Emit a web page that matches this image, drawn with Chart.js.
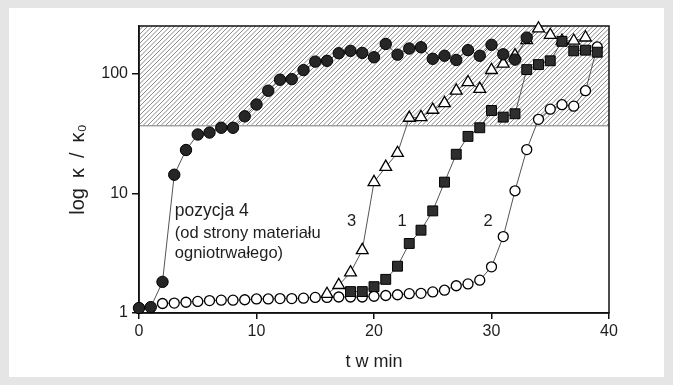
<!DOCTYPE html>
<html>
<head>
<meta charset="utf-8">
<script src="https://cdn.jsdelivr.net/npm/chart.js@4.4.1/dist/chart.umd.min.js"></script>
<style>
    html, body { margin: 0; padding: 0; background: #e5e5e5; }
    #wrap { width: 673px; height: 385px; }
</style>
</head>
<body>
<div id="wrap"><canvas id="chart" width="673" height="385"></canvas></div>
<script>
// --- dane (t w min, log κ/κ0) ---
const xTicks = [0, 10, 20, 30, 40];
const yTicks = [1, 10, 100];
const hatchFrom = 37;   // dolna granica zakreskowanego obszaru

const range = (a, b) => Array.from({ length: b - a + 1 }, (_, i) => a + i);

// pozycja 4 (pełne kółka)
const t4 = range(0, 33);
const v4 = [1.1, 1.12, 1.82, 14.3, 23, 31, 32.2, 35.3, 35.3, 44, 55.2, 72, 89, 90, 107, 126, 128,
            148, 155, 149, 137, 177, 144, 162, 166, 133, 141, 130, 157, 141, 174, 145, 131, 200];

// krzywa 1 (pełne kwadraty)
const t1 = range(18, 39);
const v1 = [1.51, 1.51, 1.66, 1.91, 2.46, 3.81, 4.92, 7.13, 12.4, 21.2, 29.9, 35.3, 49.2, 43.3,
            46.2, 108, 119, 128, 186, 155, 157, 151];

// krzywa 3 (puste trójkąty)
const t3 = range(16, 38);
const v3 = [1.44, 1.71, 2.18, 3.35, 12.4, 16.6, 21.7, 42.7, 43.3, 49.8, 56.6, 72, 84.7, 74.5,
            107, 121, 142, 190, 238, 210, 188, 188, 200];

// krzywa 2 (puste kółka)
const t2 = range(2, 39);
const v2 = [1.2, 1.21, 1.23, 1.25, 1.27, 1.28, 1.28, 1.29, 1.31, 1.31, 1.32, 1.32, 1.33, 1.35,
            1.35, 1.36, 1.36, 1.36, 1.38, 1.40, 1.42, 1.45, 1.46, 1.5, 1.55, 1.69, 1.75, 1.88,
            2.43, 4.35, 10.5, 23.2, 41.5, 50.5, 55, 53.5, 72, 167];

// podpisy na wykresie (w jednostkach osi)
const notes = [
    { text: 'pozycja 4', t: 3.05, v: 7.1, align: 'left', size: 17.5 },
    { text: '(od strony materiału', t: 3.05, v: 4.65, align: 'left', size: 16.5 },
    { text: 'ogniotrwałego)', t: 3.05, v: 3.15, align: 'left', size: 16.5 },
    { text: '3', t: 18.1, v: 5.8, align: 'center', size: 16.5 },
    { text: '1', t: 22.4, v: 5.8, align: 'center', size: 16.5 },
    { text: '2', t: 29.7, v: 5.85, align: 'center', size: 16.5 }
];

const FONT = "'Liberation Sans', Arial, sans-serif";
const INK = '#1e1e1e';

const pts = (ts, vs) => ts.map((t, i) => ({ x: t, y: vs[i] }));

const base = {
    showLine: true,
    borderColor: '#555',
    borderWidth: 1,
    tension: 0,
    clip: false,
    pointBorderColor: '#000'
};

const framePlugin = {
    id: 'frame',
    beforeDraw(chart) {
        const { ctx, width, height } = chart;
        ctx.save();
        ctx.fillStyle = '#e5e5e5';
        ctx.fillRect(0, 0, width, height);
        ctx.fillStyle = '#fff';
        ctx.fillRect(9, 8, width - 18, height - 16);
        ctx.restore();
    },
    beforeDatasetsDraw(chart) {
        const { ctx, chartArea: a, scales: { y } } = chart;
        const yb = y.getPixelForValue(hatchFrom);
        const h = yb - a.top;

        // zakreskowanie
        ctx.save();
        ctx.beginPath();
        ctx.rect(a.left, a.top, a.right - a.left, h);
        ctx.clip();
        ctx.strokeStyle = '#8a8a8a';
        ctx.lineWidth = 1;
        ctx.beginPath();
        for (let x = a.left - h; x < a.right; x += 4.5) {
            ctx.moveTo(x, yb);
            ctx.lineTo(x + h, a.top);
        }
        ctx.stroke();
        ctx.restore();

        ctx.save();
        ctx.strokeStyle = '#777';
        ctx.lineWidth = 1;
        ctx.beginPath();
        ctx.moveTo(a.left, yb + 0.5);
        ctx.lineTo(a.right, yb + 0.5);
        ctx.stroke();

        // ramka
        ctx.strokeStyle = '#111';
        ctx.lineWidth = 1.5;
        ctx.strokeRect(a.left, a.top, a.right - a.left, a.bottom - a.top);
        ctx.restore();
    },
    afterDatasetsDraw(chart) {
        const { ctx, scales: { x, y } } = chart;
        ctx.save();
        ctx.fillStyle = INK;
        ctx.textBaseline = 'middle';
        notes.forEach(n => {
            ctx.font = n.size + 'px ' + FONT;
            ctx.textAlign = n.align;
            ctx.fillText(n.text, x.getPixelForValue(n.t), y.getPixelForValue(n.v));
        });
        ctx.restore();
    }
};

new Chart(document.getElementById('chart'), {
    type: 'scatter',
    data: {
        datasets: [
            Object.assign({}, base, {
                label: 'pozycja 4',
                data: pts(t4, v4),
                pointStyle: 'circle',
                pointRadius: 5.7,
                pointBackgroundColor: '#262626',
                pointBorderWidth: 1
            }),
            Object.assign({}, base, {
                label: '1',
                data: pts(t1, v1),
                pointStyle: 'rect',
                pointRadius: 7,
                pointBackgroundColor: '#2e2e2e',
                pointBorderWidth: 1
            }),
            Object.assign({}, base, {
                label: '3',
                data: pts(t3, v3),
                pointStyle: 'triangle',
                pointRadius: 6.8,
                pointBackgroundColor: '#fff',
                pointBorderWidth: 1.3
            }),
            Object.assign({}, base, {
                label: '2',
                data: pts(t2, v2),
                pointStyle: 'circle',
                pointRadius: 5,
                pointBackgroundColor: '#fff',
                pointBorderWidth: 1.3
            })
        ]
    },
    options: {
        responsive: false,
        animation: false,
        layout: { padding: { top: 26, right: 64, left: 0, bottom: 0 } },
        plugins: {
            legend: { display: false },
            tooltip: { enabled: false }
        },
        scales: {
            x: {
                type: 'linear',
                min: xTicks[0],
                max: xTicks[xTicks.length - 1],
                afterBuildTicks: s => { s.ticks = xTicks.map(v => ({ value: v })); },
                afterFit: s => { s.height = 72; },
                ticks: {
                    color: INK,
                    font: { family: FONT, size: 16 },
                    padding: 3,
                    maxRotation: 0,
                    callback: v => String(v)
                },
                grid: { drawOnChartArea: false, drawTicks: true, tickLength: 6, tickColor: '#111', lineWidth: 1.5 },
                border: { color: '#111', width: 1.5 },
                title: {
                    display: true,
                    text: 't w min',
                    color: INK,
                    font: { family: FONT, size: 18 },
                    padding: { top: 0, bottom: 12 }
                }
            },
            y: {
                type: 'logarithmic',
                min: 1,
                max: 250,
                afterBuildTicks: s => { s.ticks = yTicks.map(v => ({ value: v, major: true })); },
                afterFit: s => { s.width = 139; },
                ticks: {
                    color: INK,
                    font: { family: FONT, size: 16 },
                    padding: 4,
                    callback: v => String(v)
                },
                grid: { drawOnChartArea: false, drawTicks: true, tickLength: 7, tickColor: '#111', lineWidth: 1.5 },
                border: { color: '#111', width: 1.5 },
                title: {
                    display: true,
                    text: 'log\u2002κ\u2002/\u2002κ₀',
                    color: INK,
                    font: { family: FONT, size: 20 },
                    padding: { top: 66, bottom: 0 }
                }
            }
        }
    },
    plugins: [framePlugin]
});
</script>
</body>
</html>
